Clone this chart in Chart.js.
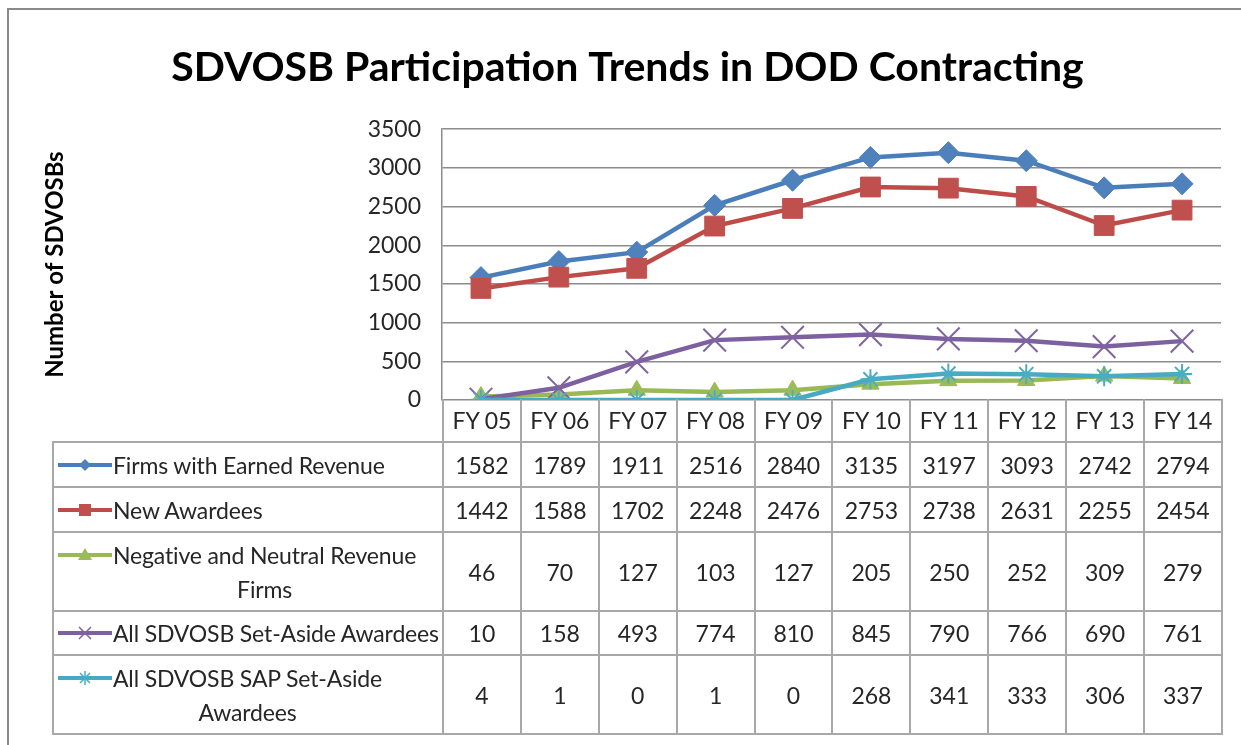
<!DOCTYPE html>
<html>
<head>
<meta charset="utf-8">
<script src="https://cdn.jsdelivr.net/npm/chart.js@4.4.1/dist/chart.umd.min.js"></script>
<style>
  html, body { margin: 0; padding: 0; background: #fff; overflow: hidden; }
  body { width: 1241px; height: 745px; position: relative; font-family: Lato, "Noto Sans", sans-serif; }
  #marco { position: absolute; left: 7px; top: 8px; width: 1234px; height: 737px; box-sizing: border-box; border-left: 2px solid #8a8a8a; border-top: 2px solid #8a8a8a; }
  #contenedor { position: absolute; left: 0; top: 0; width: 1241px; height: 745px; }
  #tabla { position: absolute; border-collapse: collapse; table-layout: fixed; color: #262626; font-size: 23px; }
  #tabla td { border: 2px solid #a8a8a8; text-align: center; vertical-align: middle; padding: 0; }
  #tabla tr.cabecera td { border-top: none; }
  #tabla td.vacio { border: none; }
  #tabla td.nombre { text-align: left; padding-left: 4px; }
  .leyenda { display: flex; align-items: flex-start; }
  .leyenda svg { flex: none; margin-top: 7px; }
  .leyenda span { display: inline-block; text-align: center; white-space: pre; line-height: 34px; margin-left: 1px; letter-spacing: -0.15px; }
</style>
</head>
<body>
<div id="marco"></div>
<div id="contenedor"><canvas id="grafico"></canvas></div>
<table id="tabla"></table>
<script>
const anios = ["FY 05", "FY 06", "FY 07", "FY 08", "FY 09", "FY 10", "FY 11", "FY 12", "FY 13", "FY 14"];
const nombresSeries = [
  "Firms with Earned Revenue",
  "New Awardees",
  "Negative and Neutral Revenue\nFirms",
  "All SDVOSB Set-Aside Awardees",
  "All SDVOSB SAP Set-Aside\nAwardees"
];
const firmasConIngresos = [1582, 1789, 1911, 2516, 2840, 3135, 3197, 3093, 2742, 2794];
const nuevosAdjudicatarios = [1442, 1588, 1702, 2248, 2476, 2753, 2738, 2631, 2255, 2454];
const ingresosNegativos = [46, 70, 127, 103, 127, 205, 250, 252, 309, 279];
const setAside = [10, 158, 493, 774, 810, 845, 790, 766, 690, 761];
const sapSetAside = [4, 1, 0, 1, 0, 268, 341, 333, 306, 337];
const ticksY = [0, 500, 1000, 1500, 2000, 2500, 3000, 3500];

const valores = [firmasConIngresos, nuevosAdjudicatarios, ingresosNegativos, setAside, sapSetAside];
const colorLinea = ["#4A7EBB", "#BE4B48", "#98B954", "#7D60A0", "#46AAC5"];
const colorMarca = ["#4F81BD", "#C0504D", "#9BBB59", "#8064A2", "#4BACC6"];
const estilos = ["rectRot", "rect", "triangle", "crossRot", "star"];
const radios = [11, 14, 10, 16, 10];

const datasets = valores.map((v, i) => ({
  label: nombresSeries[i].replace("\n", " "),
  data: v,
  borderColor: colorLinea[i],
  borderWidth: 4.5,
  backgroundColor: colorMarca[i],
  pointStyle: estilos[i],
  pointRadius: radios[i],
  pointBackgroundColor: colorMarca[i],
  pointBorderColor: colorMarca[i],
  pointBorderWidth: i >= 3 ? 2 : 1,
  tension: 0,
  order: 5 - i
}));

const ctx = document.getElementById("grafico").getContext("2d");
const grafico = new Chart(ctx, {
  type: "line",
  data: { labels: anios, datasets: datasets },
  options: {
    responsive: true,
    maintainAspectRatio: false,
    animation: false,
    events: [],
    layout: { padding: { top: 8, right: 20, bottom: 345, left: 34 } },
    plugins: {
      legend: { display: false },
      tooltip: { enabled: false },
      title: {
        display: true,
        text: "SDVOSB Participation Trends in DOD Contracting",
        color: "#000",
        font: { family: "Lato", size: 41, weight: "bold" },
        padding: { top: 35, bottom: 37 }
      }
    },
    scales: {
      x: { display: false, offset: true },
      y: {
        min: 0,
        max: 3500,
        afterBuildTicks: s => { s.ticks = ticksY.map(v => ({ value: v })); },
        afterFit: s => { s.width = 408; },
        ticks: { color: "#262626", font: { family: "Lato", size: 23 }, padding: 21, callback: v => String(v) },
        grid: { color: "#8c8c8c", lineWidth: 1.5, drawTicks: false },
        border: { display: true, color: "#8c8c8c", width: 1.5 },
        title: {
          display: true,
          text: "Number of SDVOSBs",
          color: "#000",
          font: { family: "Lato", size: 24, weight: "bold" },
          padding: { top: 7, bottom: 0 }
        }
      }
    }
  }
});

function claveSvg(i) {
  const c = colorMarca[i];
  let marca = "";
  if (i === 0) marca = `<polygon points="27,4 33,10 27,16 21,10" fill="${c}"/>`;
  if (i === 1) marca = `<rect x="21" y="4" width="12" height="12" fill="${c}"/>`;
  if (i === 2) marca = `<polygon points="27,3 34,15 20,15" fill="${c}"/>`;
  if (i === 3) marca = `<path d="M21,4 L33,16 M33,4 L21,16" stroke="${c}" stroke-width="1.5"/>`;
  if (i === 4) marca = `<path d="M22,5 L32,15 M32,5 L22,15 M27,3 L27,17" stroke="${c}" stroke-width="1.5"/>`;
  return `<svg width="54" height="20"><line x1="0" y1="10" x2="54" y2="10" stroke="${colorLinea[i]}" stroke-width="4"/>${marca}</svg>`;
}

const area = grafico.chartArea;
const anchoCol = area.width / anios.length;
const altos = [45, 45, 79, 44, 79];
const tabla = document.getElementById("tabla");
tabla.style.left = "52px";
tabla.style.top = (area.bottom - 1) + "px";
let html = `<colgroup><col style="width:${area.left - 52}px">`;
anios.forEach(() => { html += `<col style="width:${anchoCol}px">`; });
html += `</colgroup><tr class="cabecera" style="height:43px"><td class="vacio"></td>`;
anios.forEach(a => { html += `<td>${a}</td>`; });
html += "</tr>";
valores.forEach((v, i) => {
  html += `<tr style="height:${altos[i]}px"><td class="nombre"><div class="leyenda">${claveSvg(i)}<span>${nombresSeries[i]}</span></div></td>`;
  v.forEach(n => { html += `<td>${n}</td>`; });
  html += "</tr>";
});
tabla.innerHTML = html;
</script>
</body>
</html>
